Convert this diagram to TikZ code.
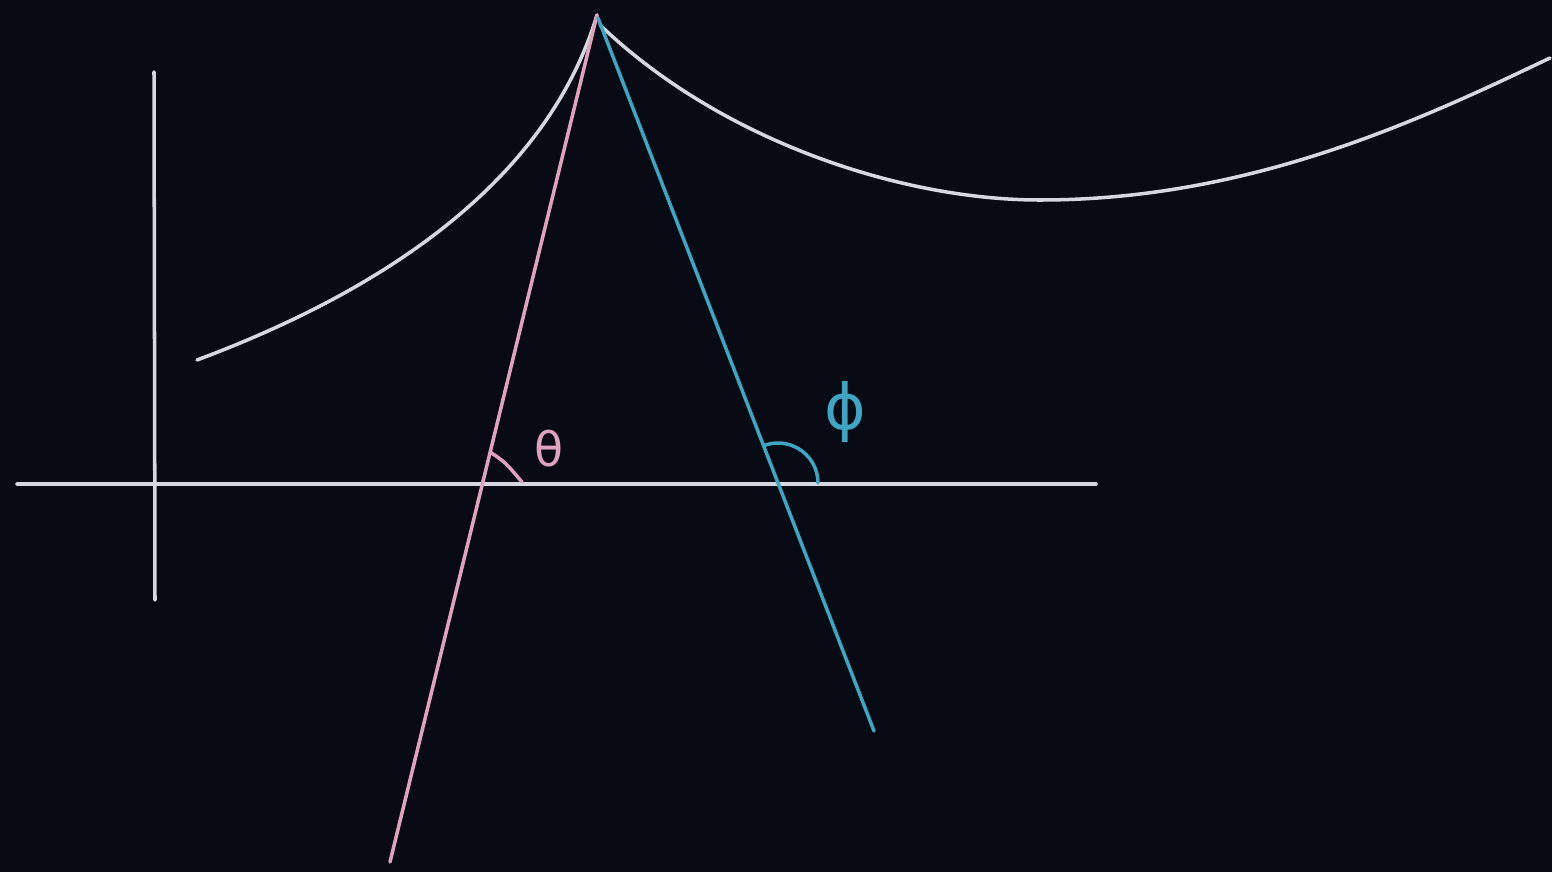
\documentclass[tikz,border=0pt]{standalone}
\usepackage{fontspec}
\newfontfamily\greekfont{DejaVu Sans}
\usetikzlibrary{calc}
\definecolor{bgc}{HTML}{080A14}
\definecolor{chalk}{HTML}{D6D8E0}
\definecolor{pinkc}{HTML}{E0A2BC}
\definecolor{bluec}{HTML}{3EA6C2}
\begin{document}
\begin{tikzpicture}[x=0.02cm,y=-0.02cm,
  chalkline/.style={line width=2pt,line cap=round,line join=round},
  whiteline/.style={chalkline,draw=chalk},
  pinkline/.style={chalkline,draw=pinkc},
  blueline/.style={chalkline,draw=bluec},
  anglabel/.style={inner sep=0pt}]
\fill[bgc] (0,0) rectangle (1552,872);
\useasboundingbox (0,0) rectangle (1552,872);
% named points
\coordinate (apex) at (597,15);
\coordinate (pinkend) at (390,862);
\coordinate (blueend) at (874,731);
\coordinate (hl) at (17,484);
\coordinate (hr) at (1096,484);
\coordinate (vt) at (154,72);
\coordinate (vb) at (155,600);
\coordinate (thc) at (482.4,484);
\coordinate (phc) at (778,484);
\coordinate (lstart) at (197,360);
\coordinate (rstart) at (600,25);
\coordinate (rmin) at (1040,200);
\coordinate (rend) at (1550,58);
% axes
\draw[whiteline] (vt) -- (vb);
\draw[whiteline] (hl) -- (hr);
% curves
\draw[whiteline] (lstart) .. controls (390,288) and (548,178) .. (apex);
\draw[whiteline] (rstart) .. controls (720,140) and (900,200) .. (rmin)
  .. controls (1250,200) and (1420,120) .. (rend);
% rays
\draw[pinkline] (apex) -- (pinkend);
\draw[blueline] ($(apex)+(1,3)$) -- (blueend);
% angles
\draw[pinkline] ($(thc)!0.068!(apex)$) .. controls (505,462) .. (522,482);
\draw[blueline] ($(phc)+(40,-1)$) arc[start angle=0,end angle=-110,radius=40];
\node[anglabel,text=pinkc,font=\greekfont\fontsize{27}{27}\selectfont] (theta) at (549,449) {θ};
\node[anglabel,text=bluec,font=\greekfont\fontsize{36}{36}\selectfont] (phi) at (845,412) {ϕ};
\end{tikzpicture}
\end{document}
